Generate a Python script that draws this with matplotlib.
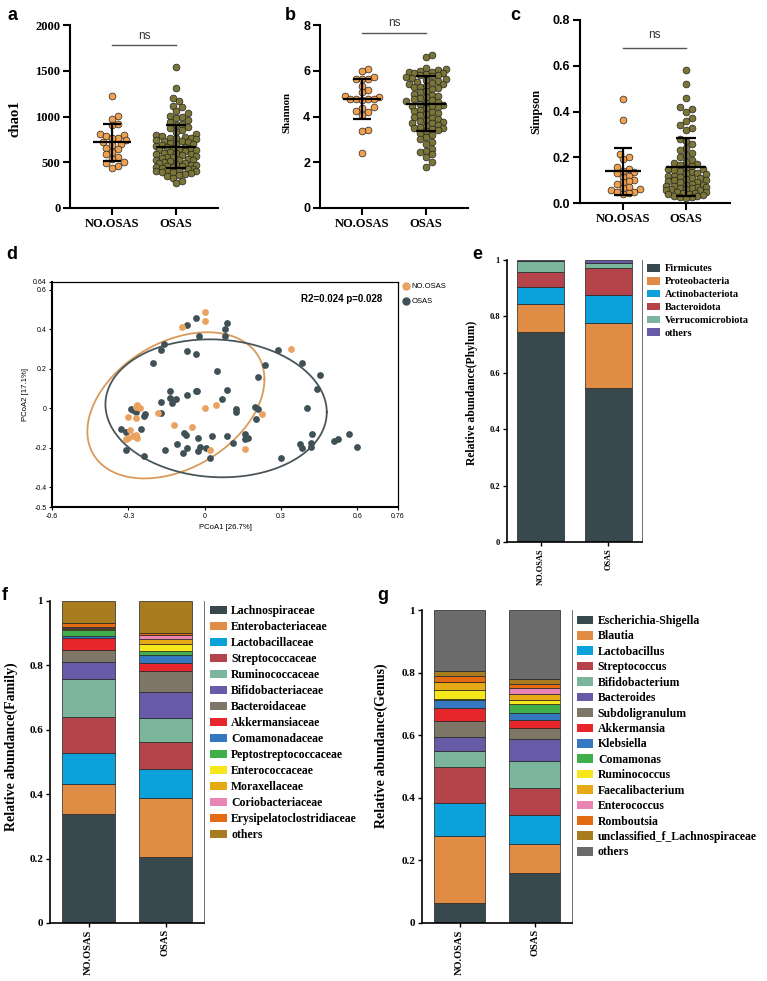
import numpy as np
import matplotlib.pyplot as plt
from matplotlib.patches import Patch
from matplotlib.lines import Line2D

SERIF = 'Liberation Serif'
SANS = 'Liberation Sans'

groups = ['NO.OSAS', 'OSAS']
dot_colors = ['#f0a04e', '#7b7637']

# ---- alpha diversity (a-c) ----
chao1_no = [1220, 1010, 975, 920, 910, 810, 800, 790, 770, 760, 740, 720,
            700, 690, 660, 640, 610, 590, 560, 540, 500, 490, 460, 440]
chao1_osas = [1540, 1310, 1200, 1170, 1120, 1100, 1060, 1040, 1010, 1000,
              980, 960, 940, 920, 910, 890, 870, 850, 830, 810,
              800, 790, 780, 770, 765, 760, 750, 740, 735, 730,
              720, 710, 700, 700, 690, 680, 670, 665, 660, 650,
              640, 635, 630, 620, 610, 605, 600, 590, 585, 580,
              570, 560, 555, 550, 540, 530, 525, 520, 510, 500,
              495, 490, 480, 475, 470, 460, 455, 450, 445, 440,
              430, 425, 420, 410, 405, 400, 395, 390, 380, 370,
              360, 350, 330, 300, 270]
chao1_mean = [720, 671]
chao1_sd = [201, 238]

shannon_no = [6.06, 5.97, 5.72, 5.65, 5.64, 5.62, 5.32, 5.14, 5.06, 4.88, 4.85, 4.78,
              4.77, 4.76, 4.75, 4.74, 4.40, 4.37, 4.23, 4.20, 4.05, 3.40, 3.36, 2.42]
shannon_osas = [6.70, 6.60, 6.12, 6.08, 6.04, 6.00, 5.96, 5.93, 5.90, 5.88,
                5.86, 5.83, 5.80, 5.76, 5.72, 5.68, 5.64, 5.60, 5.56, 5.52,
                5.48, 5.44, 5.40, 5.35, 5.30, 5.30, 5.25, 5.20, 5.10, 5.05,
                5.00, 4.95, 4.90, 4.85, 4.80, 4.75, 4.70, 4.68, 4.65, 4.60,
                4.55, 4.50, 4.48, 4.45, 4.40, 4.35, 4.30, 4.25, 4.20, 4.15,
                4.10, 4.05, 4.00, 3.95, 3.90, 3.85, 3.80, 3.75, 3.72, 3.70,
                3.65, 3.60, 3.55, 3.50, 3.48, 3.45, 3.40, 3.35, 3.30, 3.20,
                3.10, 3.00, 2.90, 2.80, 2.60, 2.50, 2.45, 2.35, 2.25, 2.00, 1.80]
shannon_mean = [4.77, 4.55]
shannon_sd = [0.89, 1.20]

simpson_no = [0.454, 0.362, 0.216, 0.200, 0.194, 0.158, 0.150, 0.140, 0.135, 0.130,
              0.120, 0.115, 0.100, 0.095, 0.090, 0.085, 0.070, 0.065, 0.060, 0.055,
              0.050, 0.048, 0.044, 0.040]
simpson_osas = [0.58, 0.52, 0.46, 0.42, 0.41, 0.40, 0.37, 0.36, 0.34, 0.33,
                0.32, 0.28, 0.27, 0.26, 0.24, 0.23, 0.22, 0.21, 0.20, 0.19,
                0.18, 0.175, 0.17, 0.165, 0.16, 0.155, 0.15, 0.15, 0.145, 0.14,
                0.135, 0.13, 0.13, 0.125, 0.12, 0.12, 0.115, 0.11, 0.11, 0.105,
                0.10, 0.10, 0.095, 0.09, 0.09, 0.085, 0.08, 0.08, 0.075, 0.075,
                0.07, 0.07, 0.065, 0.065, 0.06, 0.06, 0.055, 0.055, 0.05, 0.048,
                0.045, 0.042, 0.04, 0.038, 0.035, 0.032, 0.03, 0.028, 0.025, 0.022]
simpson_mean = [0.138, 0.157]
simpson_sd = [0.101, 0.127]

# ---- PCoA (d) ----
pcoa_no_x = [0.0, 0.0, -0.09, 0.34, -0.265, -0.27, -0.255, -0.30, -0.27, -0.185, 0.0, 0.045,
             0.225, -0.12, -0.05, -0.295, -0.30, -0.31, -0.28, -0.265, 0.02, 0.16, -0.27]
pcoa_no_y = [0.486, 0.44, 0.41, 0.30, 0.015, 0.005, 0.0, -0.042, -0.05, -0.022, 0.0, 0.015,
             -0.03, -0.087, -0.096, -0.11, -0.148, -0.157, -0.14, -0.15, -0.21, -0.205, -0.135]
pcoa_osas_x = [-0.035, -0.071, 0.089, 0.08, 0.08, -0.022, -0.161, -0.17, -0.07, -0.035,
               0.29, -0.204, 0.382, 0.239, 0.453, 0.21, 0.05, 0.44, 0.089, -0.135,
               -0.035, -0.03, -0.07, 0.069, -0.113, -0.135, -0.17, -0.128, -0.17, -0.233,
               -0.27, -0.28, 0.197, 0.21, 0.124, 0.124, 0.401, 0.2, -0.328, -0.25,
               -0.237, -0.31, -0.08, -0.075, -0.028, 0.03, 0.089, -0.11, -0.07, -0.155,
               -0.085, -0.028, -0.018, 0.005, 0.02, 0.111, 0.158, 0.17, 0.158, 0.301,
               0.375, 0.384, 0.418, 0.418, 0.42, 0.509, 0.524, 0.567, 0.597, -0.31,
               -0.24, -0.29]
pcoa_osas_y = [0.457, 0.421, 0.431, 0.401, 0.367, 0.364, 0.328, 0.296, 0.288, 0.274,
               0.296, 0.228, 0.228, 0.218, 0.168, 0.161, 0.19, 0.096, 0.093, 0.088,
               0.088, 0.09, 0.066, 0.046, 0.046, 0.05, 0.03, 0.025, -0.025, -0.03,
               -0.02, -0.01, 0.008, -0.003, -0.005, -0.018, 0.0, -0.056, -0.107, -0.107,
               -0.04, -0.12, -0.124, -0.135, -0.15, -0.14, -0.14, -0.183, -0.2, -0.21,
               -0.225, -0.215, -0.195, -0.2, -0.25, -0.178, -0.157, -0.15, -0.128, -0.25,
               -0.183, -0.2, -0.196, -0.175, -0.128, -0.166, -0.155, -0.132, -0.196, -0.21,
               -0.242, -0.005]
# ellipse: centre x, centre y, then x = cx + A cos t + B sin t, y = cy + C cos t + D sin t
ellipse_no = [-0.113, 0.015, 0.348, 0.0, 0.132, 0.346]
ellipse_osas = [0.045, 0.0, 0.435, 0.0, -0.02, 0.349]
pcoa_colors = ['#e9a25f', '#3f5157']

# ---- stacked bars (e-g) ----
phylum_names = ['Firmicutes', 'Proteobacteria', 'Actinobacteriota', 'Bacteroidota',
                'Verrucomicrobiota', 'others']
phylum_colors = ['#37484f', '#e08c45', '#0ba2dc', '#b5444a', '#7bb69c', '#675aa6']
phylum_no = [0.746, 0.099, 0.061, 0.050, 0.039, 0.005]
phylum_osas = [0.547, 0.231, 0.099, 0.093, 0.018, 0.012]

family_names = ['Lachnospiraceae', 'Enterobacteriaceae', 'Lactobacillaceae', 'Streptococcaceae',
                'Ruminococcaceae', 'Bifidobacteriaceae', 'Bacteroidaceae', 'Akkermansiaceae',
                'Comamonadaceae', 'Peptostreptococcaceae', 'Enterococcaceae', 'Moraxellaceae',
                'Coriobacteriaceae', 'Erysipelatoclostridiaceae', 'others']
family_colors = ['#37484f', '#e08c45', '#0ba2dc', '#b5444a', '#7bb69c', '#675aa6', '#7e7667',
                 '#e6262b', '#3479c0', '#40ae4a', '#f5e71c', '#e6ab14', '#e985b4', '#e46b12', '#a97c20']
family_no = [0.338, 0.094, 0.097, 0.110, 0.118, 0.053, 0.038, 0.037,
             0.005, 0.020, 0.003, 0.004, 0.003, 0.013, 0.067]
family_osas = [0.204, 0.185, 0.089, 0.083, 0.075, 0.082, 0.065, 0.024,
               0.026, 0.013, 0.019, 0.016, 0.012, 0.009, 0.098]

genus_names = ['Escherichia-Shigella', 'Blautia', 'Lactobacillus', 'Streptococcus',
               'Bifidobacterium', 'Bacteroides', 'Subdoligranulum', 'Akkermansia', 'Klebsiella',
               'Comamonas', 'Ruminococcus', 'Faecalibacterium', 'Enterococcus', 'Romboutsia',
               'unclassified_f_Lachnospiraceae', 'others']
genus_colors = ['#37484f', '#e08c45', '#0ba2dc', '#b5444a', '#7bb69c', '#675aa6', '#7e7667',
                '#e6262b', '#3479c0', '#40ae4a', '#f5e71c', '#e6ab14', '#e985b4', '#e46b12',
                '#a97c20', '#6b6b6b']
genus_no = [0.065, 0.213, 0.104, 0.115, 0.054, 0.044, 0.051, 0.042,
            0.024, 0.003, 0.029, 0.025, 0.002, 0.019, 0.014, 0.196]
genus_osas = [0.161, 0.090, 0.094, 0.085, 0.088, 0.069, 0.037, 0.025,
              0.023, 0.028, 0.012, 0.019, 0.019, 0.013, 0.016, 0.221]

W, H = 767, 981
fig = plt.figure(figsize=(W / 100, H / 100), dpi=100)


def px_box(x0, x1, y_top, y_bottom):
    return [x0 / W, 1 - y_bottom / H, (x1 - x0) / W, (y_bottom - y_top) / H]


def swarm_x(ax, xc, vals, diam, max_half=0.36):
    # greedy beeswarm in display pixels, kept within +-max_half of the category
    vals = np.asarray(vals, float)
    ys = ax.transData.transform(np.column_stack([np.full(len(vals), xc), vals]))[:, 1]
    ux = ax.transData.transform([[1, 0]])[0, 0] - ax.transData.transform([[0, 0]])[0, 0]
    limit = max_half * ux
    cands = [0.0]
    k = 1
    while k * diam * 0.5 <= limit:
        cands += [k * diam * 0.5, -k * diam * 0.5]
        k += 1
    px, py = [], []
    offs = np.zeros(len(vals))
    for i in np.argsort(ys):
        best, best_d = 0.0, -1
        for c in cands:
            d = min([np.hypot(c - a, ys[i] - b) for a, b in zip(px, py)] + [1e9])
            if d >= 0.97 * diam:
                best = c
                break
            if d > best_d:
                best, best_d = c, d
        px.append(best)
        py.append(ys[i])
        offs[i] = best
    return xc + offs / ux


def dot_panel(ax, data, means, sds, ylim, yticks, ylabels, tick_font, ylabel, ylab_size,
              ylab_pos, ns_line, ns_text, xlim):
    ax.set_xlim(*xlim)
    ax.set_ylim(*ylim)
    for i, vals in enumerate(data):
        xs = swarm_x(ax, i, vals, 5.8)
        ax.scatter(xs, vals, s=24, color=dot_colors[i], edgecolor='#222222',
                   linewidth=0.5, zorder=2, clip_on=False)
        m, s = means[i], sds[i]
        hw = 0.29 if i == 0 else 0.32
        cw = 0.14 if i == 0 else 0.16
        ax.hlines(m, i - hw, i + hw, color='black', lw=1.6, zorder=3)
        ax.vlines(i, m - s, m + s, color='black', lw=1.6, zorder=3)
        ax.hlines([m - s, m + s], i - cw, i + cw, color='black', lw=1.6, zorder=3)
    ax.plot([0, 1], [ns_line, ns_line], color='#555555', lw=1, clip_on=False)
    ax.text(0.5, ns_text, 'ns', ha='center', va='center', fontsize=8.5, family=SANS,
            color='#333333', clip_on=False)
    for side in ['top', 'right']:
        ax.spines[side].set_visible(False)
    for side in ['left', 'bottom']:
        ax.spines[side].set_linewidth(1.5)
    ax.set_yticks(yticks)
    ax.set_yticklabels(ylabels, fontsize=9, fontweight='bold', family=tick_font)
    ax.set_xticks([0, 1])
    ax.set_xticklabels(groups, fontsize=9, fontweight='bold', family=SERIF)
    ax.tick_params(length=5, width=1.5, pad=2)
    ax.set_ylabel(ylabel, fontsize=ylab_size, fontweight='bold', family=SERIF)
    ax.yaxis.set_label_coords(*ylab_pos)


ax_a = fig.add_axes(px_box(70, 218, 25, 208))
dot_panel(ax_a, [chao1_no, chao1_osas], chao1_mean, chao1_sd, (0, 2000),
          [0, 500, 1000, 1500, 2000], ['0', '500', '1000', '1500', '2000'], SERIF,
          'chao1', 10.5, (-0.33, 0.49), 1783, 1880, (-0.656, 1.656))

ax_b = fig.add_axes(px_box(320, 468, 25, 208))
dot_panel(ax_b, [shannon_no, shannon_osas], shannon_mean, shannon_sd, (0, 8),
          [0, 2, 4, 6, 8], ['0', '2', '4', '6', '8'], SANS,
          'Shannon', 7.8, (-0.19, 0.52), 7.64, 8.1, (-0.656, 1.656))

ax_c = fig.add_axes(px_box(580, 730, 20, 203))
dot_panel(ax_c, [simpson_no, simpson_osas], simpson_mean, simpson_sd, (0, 0.8),
          [0, 0.2, 0.4, 0.6, 0.8], ['0.0', '0.2', '0.4', '0.6', '0.8'], SANS,
          'Simpson', 8.8, (-0.25, 0.50), 0.676, 0.735, (-0.68, 1.70))

# ---- d: PCoA ----
ax_d = fig.add_axes(px_box(52, 398, 282, 507))
ax_d.set_xlim(-0.6, 0.76)
ax_d.set_ylim(-0.5, 0.64)
t = np.linspace(0, 2 * np.pi, 300)
for par, col in [(ellipse_no, '#d99a5a'), (ellipse_osas, '#4a555a')]:
    cx, cy, A, B, C, D = par
    ax_d.plot(cx + A * np.cos(t) + B * np.sin(t), cy + C * np.cos(t) + D * np.sin(t),
              color=col, lw=1.3, zorder=1)
ax_d.scatter(pcoa_osas_x, pcoa_osas_y, s=24, color=pcoa_colors[1], linewidth=0, zorder=2)
ax_d.scatter(pcoa_no_x, pcoa_no_y, s=24, color=pcoa_colors[0], linewidth=0, zorder=3)
ax_d.text(0.54, 0.553, 'R2=0.024 p=0.028', ha='center', va='center', fontsize=7,
          fontweight='bold', family=SANS)
ax_d.set_xticks([-0.6, -0.3, 0, 0.3, 0.6, 0.76])
ax_d.set_xticklabels(['-0.6', '-0.3', '0', '0.3', '0.6', '0.76'])
ax_d.set_yticks([-0.5, -0.4, -0.2, 0, 0.2, 0.4, 0.6, 0.64])
ax_d.set_yticklabels(['-0.5', '-0.4', '-0.2', '0', '0.2', '0.4', '0.6', '0.64'])
ax_d.tick_params(labelsize=5, length=2, width=0.8, pad=2)
for lab in ax_d.get_xticklabels() + ax_d.get_yticklabels():
    lab.set_family(SANS)
for side in ['left', 'bottom']:
    ax_d.spines[side].set_linewidth(1.5)
for side in ['top', 'right']:
    ax_d.spines[side].set_linewidth(0.9)
ax_d.set_xlabel('PCoA1 [26.7%]', fontsize=5.6, family=SANS, labelpad=3)
ax_d.set_ylabel('PCoA2 [17.1%]', fontsize=5.6, family=SANS, labelpad=3)
d_handles = [Line2D([], [], marker='o', ls='', color=c, markersize=5) for c in pcoa_colors]
ax_d.legend(d_handles, groups, loc='upper left', bbox_to_anchor=(402 / W, 1 - 283 / H),
            bbox_transform=fig.transFigure, frameon=False, prop={'family': SANS, 'size': 5.5},
            handletextpad=0.2, labelspacing=1.0, borderpad=0, borderaxespad=0,
            handlelength=1.0)


# ---- e-g: stacked bars ----
def stacked(ax, names, colors, no_vals, osas_vals, tick_size, ylab, ylab_size, ylab_pos,
            leg_x, leg_top, leg_size, hl, hh, htp, lsp):
    bottom = np.zeros(2)
    for name, col, a, b in zip(names, colors, no_vals, osas_vals):
        ax.bar([0, 1], [a, b], bottom=bottom, width=0.69, color=col,
               edgecolor='#222222', linewidth=0.5, label=name)
        bottom += [a, b]
    ax.set_xlim(-0.5, 1.5)
    ax.set_ylim(0, 1)
    ax.spines['top'].set_visible(False)
    ax.spines['left'].set_linewidth(1.2)
    ax.spines['bottom'].set_linewidth(1.2)
    ax.spines['right'].set_linewidth(0.6)
    ax.spines['right'].set_color('#555555')
    ax.set_yticks([0, 0.2, 0.4, 0.6, 0.8, 1])
    ax.set_yticklabels(['0', '0.2', '0.4', '0.6', '0.8', '1'], fontsize=tick_size,
                       fontweight='bold', family=SERIF)
    ax.set_xticks([0, 1])
    ax.set_xticklabels(groups, rotation=90, fontsize=min(tick_size, 7.5), fontweight='bold',
                       family=SERIF)
    ax.tick_params(length=3, width=1, pad=2)
    ax.tick_params(axis='x', pad=1.5)
    ax.set_ylabel(ylab, fontsize=ylab_size, fontweight='bold', family=SERIF)
    ax.yaxis.set_label_coords(*ylab_pos)
    handles = [Patch(facecolor=c, edgecolor='none') for c in colors]
    ax.legend(handles, names, loc='upper left', bbox_to_anchor=(leg_x / W, 1 - leg_top / H),
              bbox_transform=fig.transFigure, frameon=False,
              prop={'family': SERIF, 'weight': 'bold', 'size': leg_size},
              handlelength=hl, handleheight=hh, handletextpad=htp, labelspacing=lsp,
              borderpad=0, borderaxespad=0)


ax_e = fig.add_axes(px_box(507, 642, 260, 542))
stacked(ax_e, phylum_names, phylum_colors, phylum_no, phylum_osas, 6,
        'Relative abundance(Phylum)', 8.4, (-0.215, 0.53), 647, 264, 7.5, 1.25, 0.75, 0.45, 0.33)

ax_f = fig.add_axes(px_box(50, 204, 601, 923))
stacked(ax_f, family_names, family_colors, family_no, family_osas, 8,
        'Relative abundance(Family)', 10, (-0.21, 0.547), 210, 605, 8.5, 1.45, 0.75, 0.35, 0.34)

ax_g = fig.add_axes(px_box(422, 572, 610, 923))
stacked(ax_g, genus_names, genus_colors, genus_no, genus_osas, 8,
        'Relative abundance(Genus)', 10, (-0.227, 0.565), 577, 615, 8.5, 1.35, 0.75, 0.42, 0.29)

# panel letters
for letter, x, y in [('a', 12, 15), ('b', 290, 15), ('c', 515, 15), ('d', 12, 255),
                     ('e', 477, 255), ('f', 5, 595), ('g', 383, 595)]:
    fig.text(x / W, 1 - y / H, letter, fontsize=13, fontweight='bold', family=SANS,
             ha='center', va='center')

fig.savefig('out.png', dpi=100)
